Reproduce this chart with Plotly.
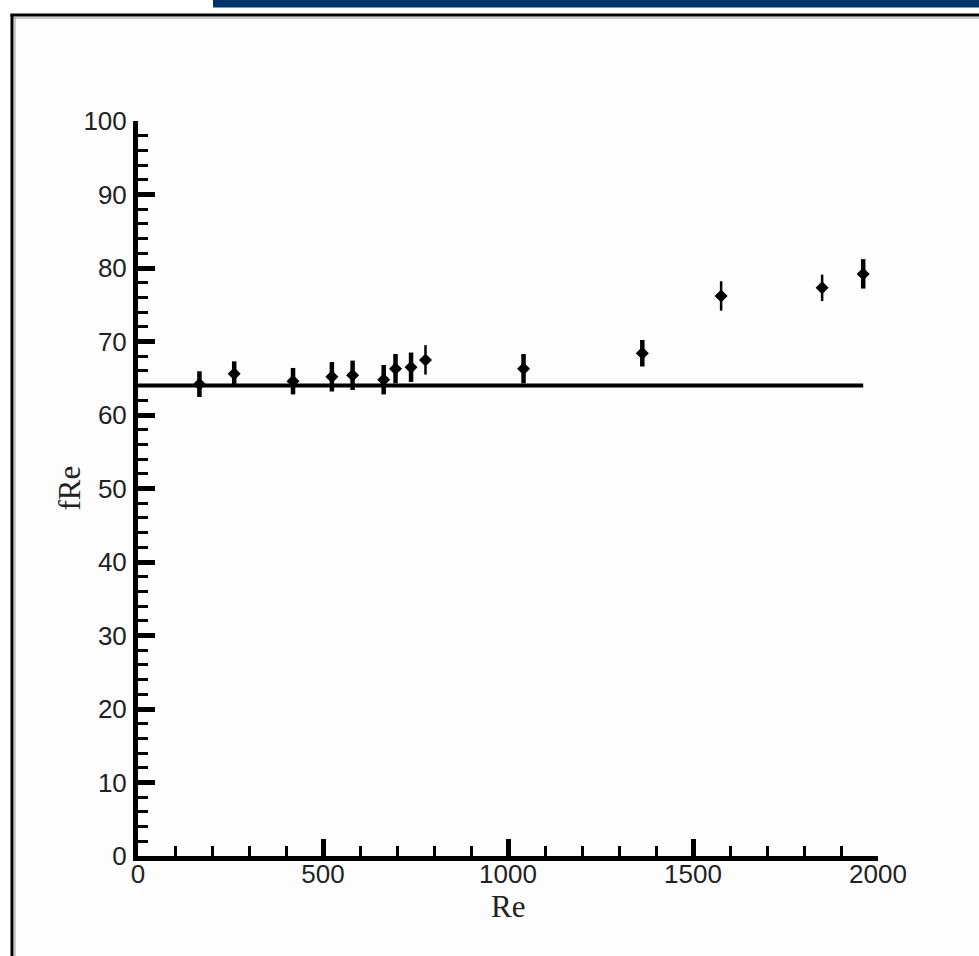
import plotly.graph_objects as go

# ---- data ----
re_thick = [166, 260, 419, 524, 580, 664, 696, 738, 1042, 1363, 1960]
fre_thick = [64.2, 65.6, 64.6, 65.2, 65.4, 64.8, 66.3, 66.5, 66.3, 68.4, 79.2]
err_thick = [1.75, 1.7, 1.8, 2.0, 2.0, 2.0, 2.0, 2.0, 2.0, 1.8, 2.0]

re_thin = [777, 1576, 1849]
fre_thin = [67.5, 76.2, 77.3]
err_thin = [2.0, 2.0, 1.8]

theory_re = [0, 1960]
theory_fre = [64, 64]

x_ticks = [0, 500, 1000, 1500, 2000]
y_ticks = [0, 10, 20, 30, 40, 50, 60, 70, 80, 90, 100]

W, H = 979, 956
L, R, T, B = 138, 101, 121, 100
PW, PH = W - L - R, H - T - B


def px(xpix):
    return (xpix - L) / PW


def py(ypix):
    return (H - B - ypix) / PH


fig = go.Figure()

fig.add_trace(go.Scatter(
    x=theory_re, y=theory_fre, mode="lines",
    line=dict(color="black", width=4), showlegend=False, hoverinfo="skip"))

fig.add_trace(go.Scatter(
    x=re_thick, y=fre_thick, mode="markers",
    marker=dict(symbol="diamond", size=10, color="black"),
    error_y=dict(type="data", array=err_thick, color="black", thickness=4.5, width=0),
    showlegend=False))

fig.add_trace(go.Scatter(
    x=re_thin, y=fre_thin, mode="markers",
    marker=dict(symbol="diamond", size=10, color="black"),
    error_y=dict(type="data", array=err_thin, color="black", thickness=2.5, width=0),
    showlegend=False))

tickfont = dict(family="Liberation Sans, Arial, sans-serif", size=26, color="#222222")

fig.update_xaxes(
    range=[0, 2000], tickvals=x_ticks, ticktext=[str(v) for v in x_ticks],
    showline=True, linecolor="black", linewidth=5, mirror=False,
    ticks="inside", ticklen=17, tickwidth=4.5, tickcolor="black",
    minor=dict(dtick=100, ticks="inside", ticklen=10, tickwidth=2.5, tickcolor="black"),
    showgrid=False, zeroline=False, tickfont=tickfont, ticklabelstandoff=-9,
)
fig.update_yaxes(
    range=[0, 100], tickvals=y_ticks, ticktext=[str(v) for v in y_ticks],
    showline=True, linecolor="black", linewidth=5, mirror=False,
    ticks="inside", ticklen=17, tickwidth=4.5, tickcolor="black",
    minor=dict(dtick=2, ticks="inside", ticklen=10, tickwidth=2.5, tickcolor="black"),
    showgrid=False, zeroline=False, tickfont=tickfont, ticklabelstandoff=1,
)

titlefont = dict(family="Liberation Serif, Times New Roman, serif", size=31, color="#222222")
annotations = [
    dict(text="Re", x=1000, xref="x", y=py(906), yref="paper", showarrow=False,
         xanchor="center", yanchor="middle", font=titlefont),
    dict(text="fRe", x=px(69), xref="paper", y=50, yref="y", showarrow=False,
         xanchor="center", yanchor="middle", textangle=-90, font=titlefont),
]

shapes = [
    dict(type="rect", xref="paper", yref="paper", x0=px(13), x1=px(990), y0=py(970), y1=py(16),
         fillcolor="#fdfdfd", line=dict(width=0), layer="below"),
    dict(type="rect", xref="paper", yref="paper", x0=px(213), x1=px(990), y0=py(7.5), y1=py(-5),
         fillcolor="#00346a", line=dict(width=0)),
    dict(type="line", xref="paper", yref="paper", x0=px(12), x1=px(12), y0=py(14), y1=py(970),
         line=dict(color="black", width=3)),
    dict(type="line", xref="paper", yref="paper", x0=px(15), x1=px(15), y0=py(17), y1=py(970),
         line=dict(color="#9a9a9a", width=1)),
    dict(type="line", xref="paper", yref="paper", x0=px(10.5), x1=px(990), y0=py(15), y1=py(15),
         line=dict(color="black", width=3)),
    dict(type="line", xref="paper", yref="paper", x0=px(14), x1=px(990), y0=py(18), y1=py(18),
         line=dict(color="#9a9a9a", width=1)),
]

fig.update_layout(
    width=W, height=H,
    margin=dict(l=L, r=R, t=T, b=B, pad=0),
    paper_bgcolor="white", plot_bgcolor="rgba(0,0,0,0)",
    annotations=annotations, shapes=shapes, showlegend=False,
)

fig.write_html("out.html")
